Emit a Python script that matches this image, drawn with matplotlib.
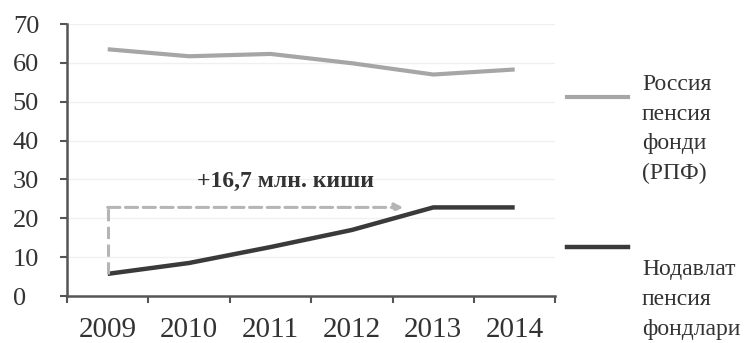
import matplotlib.pyplot as plt
from matplotlib.lines import Line2D

plt.rcParams['font.family'] = ['Liberation Serif', 'DejaVu Serif']

years = ['2009', '2010', '2011', '2012', '2013', '2014']
rpf = [63.5, 61.7, 62.3, 59.9, 57.0, 58.3]
npf = [5.7, 8.5, 12.6, 17.0, 22.8, 22.8]
rpf_label = 'Россия\nпенсия\nфонди\n(РПФ)'
npf_label = 'Нодавлат\nпенсия\nфондлари'
note = '+16,7 млн. киши'

fig = plt.figure(figsize=(7.49, 3.43), dpi=100)
ax = fig.add_axes([0.0895, 0.137, 0.652, 0.793])

x = list(range(len(years)))
for v in [10, 20, 30, 40, 50, 60, 70]:
    ax.axhline(v, color='#f0f0f0', lw=1, zorder=0)

ax.plot(x, rpf, color='#a6a6a6', lw=3, solid_capstyle='butt')
ax.plot(x, npf, color='#3a3a3a', lw=3.2, solid_capstyle='butt')

# dashed growth marker
ax.plot([0, 0], [npf[0], npf[-1]], color='#b5b5b5', lw=2.2, ls=(0, (4, 1.8)))
ax.annotate('', xy=(3.63, npf[-1]), xytext=(0, npf[-1]),
            arrowprops=dict(arrowstyle='-|>', color='#b5b5b5', lw=2.2,
                            linestyle=(0, (4, 1.8)), shrinkA=0, shrinkB=0,
                            mutation_scale=12))
ax.text(2.18, 29.6, note, ha='center', va='center', fontsize=17,
        fontweight='bold', color='#333333')

ax.set_xlim(-0.5, 5.5)
ax.set_ylim(0, 70)
ax.set_yticks(range(0, 71, 10))
ax.set_xticks(x)
ax.set_xticklabels(years)
ax.set_xticks([i + 0.5 for i in range(-1, 6)], minor=True)
ax.tick_params(axis='x', which='major', length=0, pad=15, labelsize=21,
               labelcolor='#333333')
ax.tick_params(axis='x', which='minor', length=5, color='#555555', width=1.5)
ax.tick_params(axis='y', length=5, color='#555555', width=1.5, pad=34,
               labelsize=19, labelcolor='#333333')
for lab in ax.get_yticklabels():
    lab.set_horizontalalignment('left')
for s in ['top', 'right']:
    ax.spines[s].set_visible(False)
for s in ['left', 'bottom']:
    ax.spines[s].set_color('#555555')
    ax.spines[s].set_linewidth(1.8)

# legend drawn by hand, to the right of the plot
fig.add_artist(Line2D([0.757, 0.838], [0.717, 0.717], color='#a6a6a6', lw=3,
                      transform=fig.transFigure))
fig.add_artist(Line2D([0.757, 0.838], [0.280, 0.280], color='#3a3a3a', lw=3.2,
                      transform=fig.transFigure))
fig.text(0.857, 0.785, rpf_label, ha='left', va='top', fontsize=17,
         color='#333333', linespacing=1.55)
fig.text(0.857, 0.245, npf_label, ha='left', va='top', fontsize=17,
         color='#333333', linespacing=1.55)

fig.savefig('out.png', dpi=100)
